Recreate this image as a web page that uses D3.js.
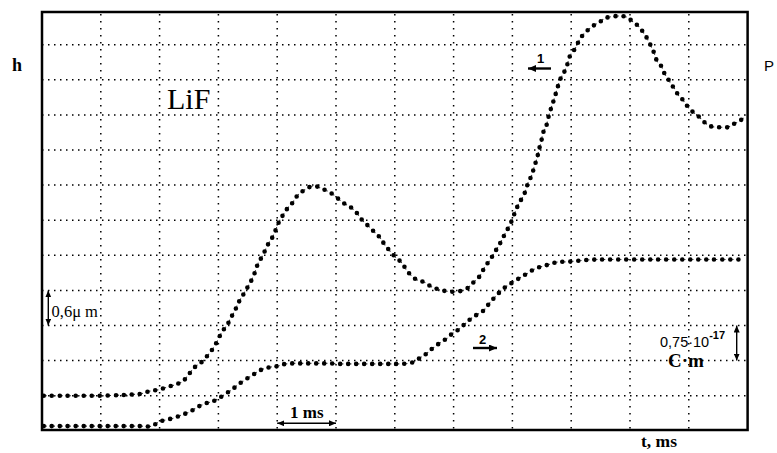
<!DOCTYPE html>
<html>
<head>
<meta charset="utf-8">
<script src="https://cdn.jsdelivr.net/npm/d3@7"></script>
<style>
  html, body { margin: 0; padding: 0; background: #fff; }
  svg { display: block; }
  .serif { font-family: 'Liberation Serif', 'Times New Roman', serif; }
  .sans { font-family: 'Liberation Sans', Arial, sans-serif; }
</style>
</head>
<body>
<svg id="chart" width="777" height="453"></svg>
<script>
// Grid divisions along each axis (1 division = 1 ms on t, 0.6 µm for h, 0.75·10^-17 C·m for P)
const gridCols = d3.range(1, 12);
const gridRows = d3.range(1, 12);

// Curve 1: displacement h (µm) versus time t (ms)
const curveH = [
  [0.03,0.60],[0.31,0.60],[0.65,0.60],[0.99,0.60],[1.33,0.61],[1.50,0.62],[1.67,0.63],[1.84,0.68],
  [1.97,0.70],[2.14,0.75],[2.30,0.80],[2.40,0.85],[2.50,0.97],[2.60,1.09],[2.72,1.18],[2.81,1.28],
  [2.89,1.38],[2.99,1.55],[3.06,1.69],[3.15,1.81],[3.21,1.93],[3.28,2.05],[3.33,2.17],[3.40,2.29],
  [3.47,2.41],[3.54,2.53],[3.61,2.68],[3.67,2.85],[3.76,3.01],[3.84,3.18],[3.93,3.33],[4.03,3.57],
  [4.10,3.69],[4.18,3.81],[4.27,3.91],[4.35,4.03],[4.44,4.10],[4.56,4.17],[4.66,4.18],[4.73,4.15],
  [4.85,4.10],[4.95,4.04],[5.07,3.94],[5.15,3.88],[5.24,3.83],[5.34,3.74],[5.43,3.62],[5.53,3.52],
  [5.65,3.40],[5.75,3.30],[5.83,3.18],[6.00,2.98],[6.12,2.87],[6.22,2.72],[6.36,2.59],[6.50,2.54],
  [6.63,2.46],[6.77,2.41],[6.92,2.38],[7.06,2.38],[7.21,2.42],[7.33,2.53],[7.45,2.65],[7.53,2.80],
  [7.62,2.92],[7.69,3.04],[7.76,3.15],[7.82,3.26],[7.89,3.40],[7.96,3.52],[8.01,3.65],[8.06,3.77],
  [8.11,3.89],[8.18,4.00],[8.23,4.12],[8.27,4.25],[8.33,4.37],[8.37,4.51],[8.42,4.66],[8.45,4.80],
  [8.49,4.94],[8.52,5.09],[8.57,5.19],[8.61,5.35],[8.66,5.52],[8.71,5.67],[8.76,5.84],[8.81,6.00],
  [8.88,6.13],[8.93,6.25],[8.98,6.41],[9.07,6.54],[9.15,6.70],[9.23,6.80],[9.32,6.88],[9.40,6.94],
  [9.49,6.99],[9.57,7.05],[9.69,7.08],[9.83,7.09],[9.95,7.07],[10.05,6.99],[10.14,6.92],[10.22,6.82],
  [10.29,6.71],[10.36,6.57],[10.41,6.46],[10.46,6.32],[10.54,6.22],[10.58,6.12],[10.65,6.01],
  [10.71,5.91],[10.77,5.83],[10.82,5.74],[10.88,5.68],[10.94,5.60],[10.99,5.53],[11.07,5.45],
  [11.16,5.38],[11.24,5.30],[11.31,5.24],[11.39,5.20],[11.48,5.19],[11.58,5.19],[11.67,5.19],
  [11.75,5.24],[11.84,5.28],[11.92,5.34],[11.97,5.40]
];

// Curve 2: polarization P (10^-17 C·m) versus time t (ms)
const curveP = [
  [0.03,0.10],[0.31,0.10],[0.65,0.10],[0.99,0.10],[1.33,0.10],[1.67,0.10],[1.87,0.10],[1.96,0.17],
  [2.06,0.22],[2.23,0.27],[2.38,0.34],[2.52,0.41],[2.65,0.51],[2.79,0.59],[2.89,0.62],[2.99,0.68],
  [3.11,0.78],[3.23,0.88],[3.33,0.98],[3.45,1.09],[3.57,1.18],[3.66,1.26],[3.76,1.32],[3.88,1.36],
  [4.00,1.38],[4.10,1.42],[4.25,1.44],[4.39,1.44],[4.56,1.44],[4.73,1.44],[4.90,1.44],[5.07,1.43],
  [5.24,1.43],[5.41,1.43],[5.58,1.43],[5.75,1.43],[5.92,1.43],[6.05,1.43],[6.22,1.44],[6.34,1.48],
  [6.43,1.56],[6.53,1.64],[6.63,1.75],[6.77,1.88],[6.89,1.98],[6.99,2.09],[7.07,2.15],[7.19,2.28],
  [7.33,2.43],[7.50,2.56],[7.60,2.71],[7.69,2.84],[7.79,2.97],[7.87,3.06],[7.99,3.16],[8.13,3.27],
  [8.25,3.36],[8.38,3.46],[8.50,3.51],[8.64,3.56],[8.78,3.61],[8.93,3.61],[9.10,3.63],[9.27,3.65],
  [9.44,3.66],[9.61,3.66],[9.91,3.66],[10.34,3.66],[10.85,3.66],[11.36,3.66],[11.87,3.66]
];

// Scale bars: one division in each unit
const hBar = [1.8, 2.4];      // µm
const pBar = [1.5, 2.25];     // 10^-17 C·m
const tBar = [4, 5];          // ms

const svg = d3.select("#chart");
const frameLeft = 42, frameRight = 747.6, frameTop = 12, frameBottom = 430;
const yBase = 430.8, yTop = 430.8 - 12 * 35.1;

const x = d3.scaleLinear().domain([0, 12]).range([frameLeft, frameRight]);
const yDiv = d3.scaleLinear().domain([0, 12]).range([yBase, yTop]);
const yH = d3.scaleLinear().domain([0, 7.2]).range([yBase, yTop]);
const yP = d3.scaleLinear().domain([0, 9]).range([yBase, yTop]);

// dotted grid
const grid = svg.append("g").attr("stroke", "#000").attr("stroke-width", 1.5);
grid.selectAll("line.v").data(gridCols).join("line")
  .attr("class", "v")
  .attr("x1", d => x(d)).attr("x2", d => x(d))
  .attr("y1", frameTop + 2).attr("y2", frameBottom)
  .attr("stroke-dasharray", "1.5 5.5");
grid.selectAll("line.h").data(gridRows).join("line")
  .attr("class", "h")
  .attr("x1", frameLeft).attr("x2", frameRight)
  .attr("y1", d => yDiv(d)).attr("y2", d => yDiv(d))
  .attr("stroke-dasharray", "1.5 4.5");

// frame
svg.append("rect")
  .attr("x", frameLeft).attr("y", frameTop)
  .attr("width", frameRight - frameLeft).attr("height", frameBottom - frameTop)
  .attr("fill", "none").attr("stroke", "#000").attr("stroke-width", 2.5);

// arrow markers
const defs = svg.append("defs");
function marker(id, w, h) {
  defs.append("marker")
    .attr("id", id)
    .attr("viewBox", `0 0 ${w} ${h}`)
    .attr("refX", w).attr("refY", h / 2)
    .attr("markerWidth", w).attr("markerHeight", h)
    .attr("markerUnits", "userSpaceOnUse")
    .attr("orient", "auto-start-reverse")
    .append("path")
    .attr("d", `M0,0L${w},${h / 2}L0,${h}Z`)
    .attr("fill", "#000");
}
marker("head", 7, 6);
marker("headBold", 8, 7);

// curves drawn as dotted traces
const lineH = d3.line().x(d => x(d[0])).y(d => yH(d[1])).curve(d3.curveCatmullRom.alpha(0.5));
const lineP = d3.line().x(d => x(d[0])).y(d => yP(d[1])).curve(d3.curveCatmullRom.alpha(0.5));

[[curveH, lineH], [curveP, lineP]].forEach(([data, gen]) => {
  svg.append("path").attr("d", gen(data))
    .attr("fill", "none").attr("stroke", "#333").attr("stroke-width", 1.1)
    .attr("stroke-dasharray", "1.2 2.8").attr("stroke-dashoffset", -2);
  svg.append("path").attr("d", gen(data))
    .attr("fill", "none").attr("stroke", "#000").attr("stroke-width", 4.6)
    .attr("stroke-linecap", "round")
    .attr("stroke-dasharray", "0 8");
});

// axis letters
svg.append("text").attr("class", "serif").attr("x", 12).attr("y", 71)
  .attr("font-weight", "bold").attr("font-size", 18).text("h");
svg.append("text").attr("class", "sans").attr("x", 764).attr("y", 71)
  .attr("font-size", 15).text("P");

svg.append("text").attr("class", "serif").attr("x", 167).attr("y", 109)
  .attr("font-size", 30).text("LiF");

// curve labels with direction arrows
svg.append("text").attr("class", "sans").attr("x", 537).attr("y", 63)
  .attr("font-weight", "bold").attr("font-size", 13).text("1");
svg.append("line").attr("x1", 551).attr("x2", 528).attr("y1", 68.5).attr("y2", 68.5)
  .attr("stroke", "#000").attr("stroke-width", 2.4).attr("marker-end", "url(#headBold)");

svg.append("text").attr("class", "sans").attr("x", 479).attr("y", 344)
  .attr("font-weight", "bold").attr("font-size", 13).text("2");
svg.append("line").attr("x1", 473).attr("x2", 497).attr("y1", 348).attr("y2", 348)
  .attr("stroke", "#000").attr("stroke-width", 2.4).attr("marker-end", "url(#headBold)");

// h scale bar
svg.append("line")
  .attr("x1", 48.3).attr("x2", 48.3)
  .attr("y1", yH(hBar[0])).attr("y2", yH(hBar[1]))
  .attr("stroke", "#000").attr("stroke-width", 1.4)
  .attr("marker-start", "url(#head)").attr("marker-end", "url(#head)");
svg.append("text").attr("class", "serif").attr("x", 51.5).attr("y", 316.5)
  .attr("font-size", 16.5).text("0,6μ m");

// P scale bar
svg.append("line")
  .attr("x1", 736.7).attr("x2", 736.7)
  .attr("y1", yP(pBar[0])).attr("y2", yP(pBar[1]))
  .attr("stroke", "#000").attr("stroke-width", 1.4)
  .attr("marker-start", "url(#head)").attr("marker-end", "url(#head)");
const pLabel = svg.append("text").attr("class", "sans").attr("x", 660).attr("y", 346.5)
  .attr("font-size", 14.5);
pLabel.append("tspan").text("0,75·10");
pLabel.append("tspan").attr("dy", -8).attr("font-size", 11).attr("font-weight", "bold").text("-17");
svg.append("text").attr("class", "serif").attr("x", 668).attr("y", 367)
  .attr("font-weight", "bold").attr("font-size", 19).text("C·m");

// time scale bar
svg.append("line")
  .attr("x1", x(tBar[0])).attr("x2", x(tBar[1]))
  .attr("y1", 423.3).attr("y2", 423.3)
  .attr("stroke", "#000").attr("stroke-width", 1.4)
  .attr("marker-start", "url(#head)").attr("marker-end", "url(#head)");
svg.append("text").attr("class", "serif").attr("x", 290).attr("y", 418)
  .attr("font-weight", "bold").attr("font-size", 17).text("1 ms");

svg.append("text").attr("class", "serif").attr("x", 641).attr("y", 447)
  .attr("font-weight", "bold").attr("font-size", 17.5).text("t, ms");
</script>
</body>
</html>
